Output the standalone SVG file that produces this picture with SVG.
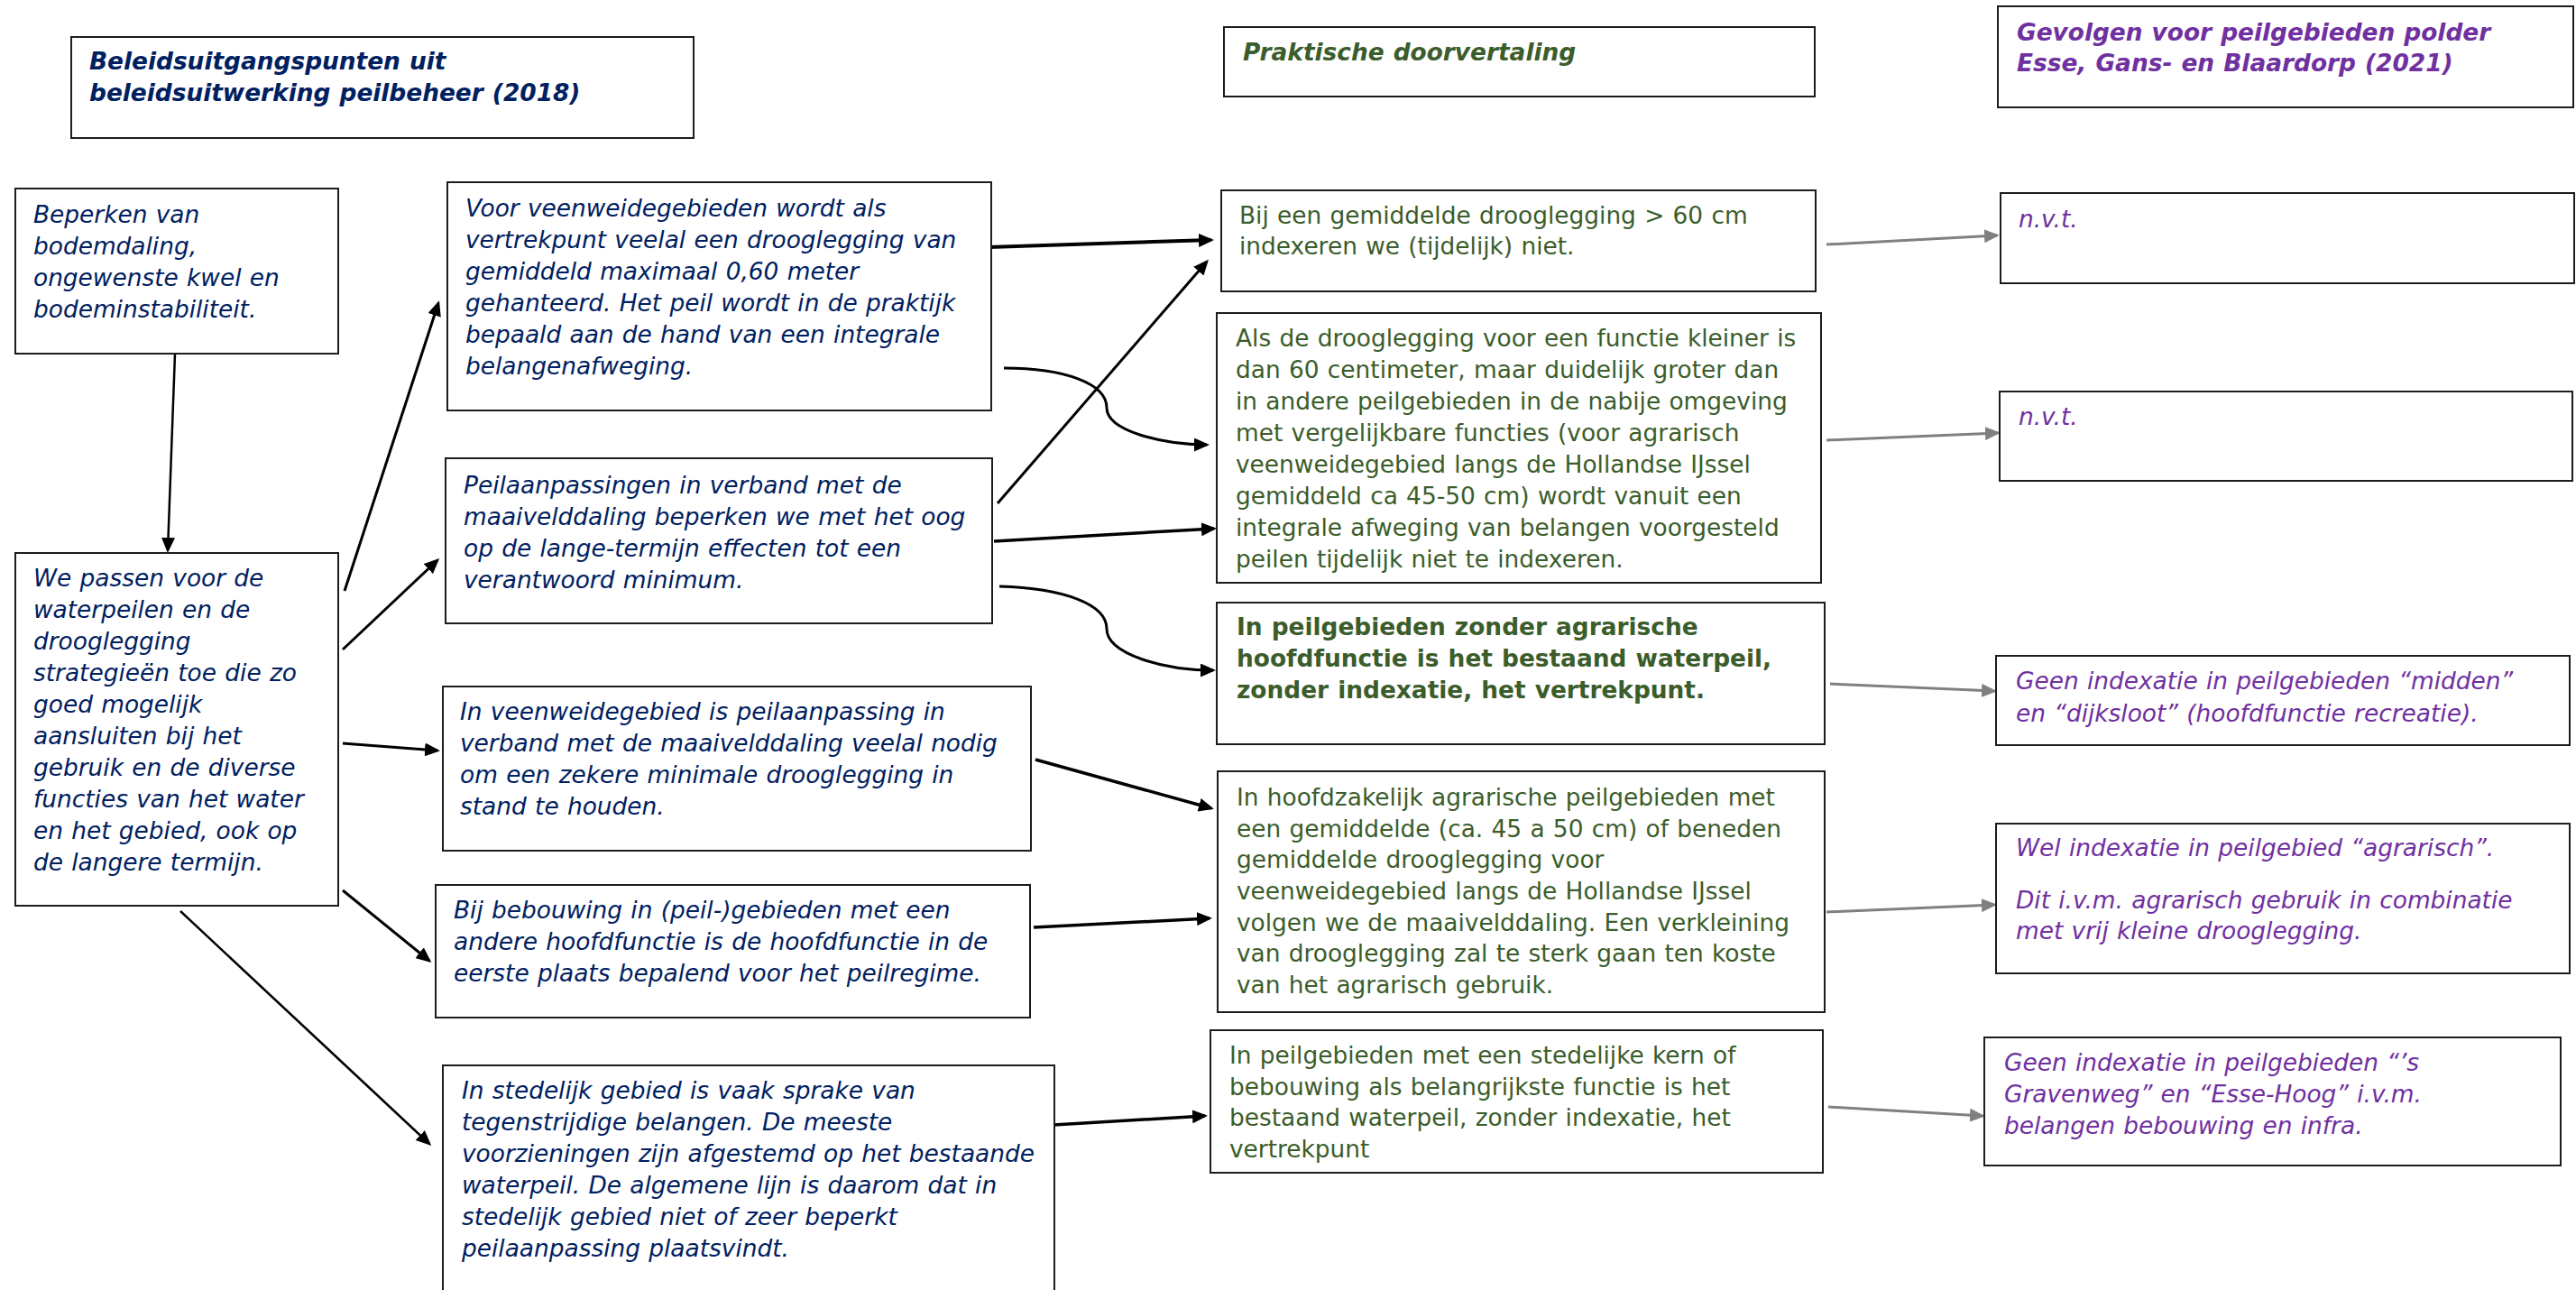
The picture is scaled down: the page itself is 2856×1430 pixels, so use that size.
<svg xmlns="http://www.w3.org/2000/svg" width="2856" height="1430" viewBox="0 0 2856 1430">
<style>
.box{fill:#fff;stroke:#1c1c1c;stroke-width:2}
.t{font-family:Verdana,"DejaVu Sans",sans-serif;font-size:26.4px;word-spacing:0.9px}
.nv{fill:#002060;font-style:italic}
.gr{fill:#3b5d2b}
.pu{fill:#7030a0;font-style:italic}
.b{font-weight:bold}
.c{stroke:#000;stroke-width:3;fill:none;marker-end:url(#ah)}
.g{stroke:#808080;stroke-width:3;fill:none;marker-end:url(#ahg)}
</style>
<defs>
<marker id="ah" markerUnits="userSpaceOnUse" markerWidth="17" markerHeight="15" refX="14" refY="7.5" orient="auto"><path d="M0,0 L17,7.5 L0,15 z" fill="#000"/></marker>
<marker id="ahg" markerUnits="userSpaceOnUse" markerWidth="17" markerHeight="15" refX="14" refY="7.5" orient="auto"><path d="M0,0 L17,7.5 L0,15 z" fill="#808080"/></marker>
</defs>
<rect width="2856" height="1430" fill="#fff"/>

<g id="connectors">
<line class="c" x1="194" y1="392" x2="186" y2="610" style="stroke-width:2.5"/>
<line class="c" x1="382" y1="655" x2="486" y2="336"/>
<line class="c" x1="380" y1="720" x2="485" y2="621"/>
<line class="c" x1="380" y1="824" x2="485" y2="832"/>
<line class="c" x1="380" y1="987" x2="476" y2="1065"/>
<line class="c" x1="200" y1="1010" x2="476" y2="1268" style="stroke-width:2.5"/>
<line class="c" x1="1096" y1="274" x2="1343" y2="266" style="stroke-width:4"/>
<path class="c" d="M1113,408 C1180,408 1227,425 1227,452 C1227,478 1290,493 1338,493"/>
<line class="c" x1="1106" y1="558" x2="1338" y2="290"/>
<line class="c" x1="1102" y1="600" x2="1346" y2="586" style="stroke-width:3.5"/>
<path class="c" d="M1108,650 C1180,652 1227,670 1227,697 C1227,725 1290,743 1345,743"/>
<line class="c" x1="1148" y1="842" x2="1343" y2="896" style="stroke-width:3.5"/>
<line class="c" x1="1146" y1="1028" x2="1341" y2="1018" style="stroke-width:3.5"/>
<line class="c" x1="1168" y1="1247" x2="1336" y2="1237" style="stroke-width:3.5"/>
<line class="g" x1="2025" y1="271" x2="2214" y2="261"/>
<line class="g" x1="2025" y1="488" x2="2215" y2="480"/>
<line class="g" x1="2029" y1="758" x2="2211" y2="766"/>
<line class="g" x1="2025" y1="1011" x2="2211" y2="1003"/>
<line class="g" x1="2027" y1="1227" x2="2198" y2="1237"/>
</g>

<g id="hdr-beleid">
<rect class="box" x="79" y="41" width="690" height="112"/>
<text class="t nv b" x="99"><tspan x="99" y="77">Beleidsuitgangspunten uit</tspan><tspan x="99" y="112">beleidsuitwerking peilbeheer (2018)</tspan></text>
</g>
<g id="hdr-praktisch">
<rect class="box" x="1357" y="30" width="655" height="77"/>
<text class="t gr b" style="font-style:italic" x="1378" y="67">Praktische doorvertaling</text>
</g>
<g id="hdr-gevolgen">
<rect class="box" x="2215" y="7" width="638" height="112"/>
<text class="t pu b"><tspan x="2236" y="45">Gevolgen voor peilgebieden polder</tspan><tspan x="2236" y="79">Esse, Gans- en Blaardorp (2021)</tspan></text>
</g>

<g id="n-beperken">
<rect class="box" x="17" y="209" width="358" height="183"/>
<text class="t nv"><tspan x="37" y="247">Beperken van</tspan><tspan x="37" y="282">bodemdaling,</tspan><tspan x="37" y="317">ongewenste kwel en</tspan><tspan x="37" y="352">bodeminstabiliteit.</tspan></text>
</g>
<g id="n-wepassen">
<rect class="box" x="17" y="613" width="358" height="391"/>
<text class="t nv"><tspan x="37" y="650">We passen voor de</tspan><tspan x="37" y="685">waterpeilen en de</tspan><tspan x="37" y="720">drooglegging</tspan><tspan x="37" y="755">strategieën toe die zo</tspan><tspan x="37" y="790">goed mogelijk</tspan><tspan x="37" y="825">aansluiten bij het</tspan><tspan x="37" y="860">gebruik en de diverse</tspan><tspan x="37" y="895">functies van het water</tspan><tspan x="37" y="930">en het gebied, ook op</tspan><tspan x="37" y="965">de langere termijn.</tspan></text>
</g>

<g id="n-voor">
<rect class="box" x="496" y="202" width="603" height="253"/>
<text class="t nv"><tspan x="516" y="240">Voor veenweidegebieden wordt als</tspan><tspan x="516" y="275">vertrekpunt veelal een drooglegging van</tspan><tspan x="516" y="310">gemiddeld maximaal 0,60 meter</tspan><tspan x="516" y="345">gehanteerd. Het peil wordt in de praktijk</tspan><tspan x="516" y="380">bepaald aan de hand van een integrale</tspan><tspan x="516" y="415">belangenafweging.</tspan></text>
</g>
<g id="n-peilaanpassingen">
<rect class="box" x="494" y="508" width="606" height="183"/>
<text class="t nv"><tspan x="514" y="547">Peilaanpassingen in verband met de</tspan><tspan x="514" y="582">maaivelddaling beperken we met het oog</tspan><tspan x="514" y="617">op de lange-termijn effecten tot een</tspan><tspan x="514" y="652">verantwoord minimum.</tspan></text>
</g>
<g id="n-veenweide">
<rect class="box" x="491" y="761" width="652" height="182"/>
<text class="t nv"><tspan x="510" y="798">In veenweidegebied is peilaanpassing in</tspan><tspan x="510" y="833">verband met de maaivelddaling veelal nodig</tspan><tspan x="510" y="868">om een zekere minimale drooglegging in</tspan><tspan x="510" y="903">stand te houden.</tspan></text>
</g>
<g id="n-bebouwing">
<rect class="box" x="483" y="981" width="659" height="147"/>
<text class="t nv"><tspan x="503" y="1018">Bij bebouwing in (peil-)gebieden met een</tspan><tspan x="503" y="1053">andere hoofdfunctie is de hoofdfunctie in de</tspan><tspan x="503" y="1088">eerste plaats bepalend voor het peilregime.</tspan></text>
</g>
<g id="n-stedelijk">
<rect class="box" x="491" y="1181" width="678" height="260"/>
<text class="t nv"><tspan x="512" y="1218">In stedelijk gebied is vaak sprake van</tspan><tspan x="512" y="1253">tegenstrijdige belangen. De meeste</tspan><tspan x="512" y="1288">voorzieningen zijn afgestemd op het bestaande</tspan><tspan x="512" y="1323">waterpeil. De algemene lijn is daarom dat in</tspan><tspan x="512" y="1358">stedelijk gebied niet of zeer beperkt</tspan><tspan x="512" y="1393">peilaanpassing plaatsvindt.</tspan></text>
</g>

<g id="p-60cm">
<rect class="box" x="1354" y="211" width="659" height="112"/>
<text class="t gr"><tspan x="1374" y="248">Bij een gemiddelde drooglegging &gt; 60 cm</tspan><tspan x="1374" y="282">indexeren we (tijdelijk) niet.</tspan></text>
</g>
<g id="p-kleiner">
<rect class="box" x="1349" y="347" width="670" height="299"/>
<text class="t gr"><tspan x="1370" y="384">Als de drooglegging voor een functie kleiner is</tspan><tspan x="1370" y="419">dan 60 centimeter, maar duidelijk groter dan</tspan><tspan x="1370" y="454">in andere peilgebieden in de nabije omgeving</tspan><tspan x="1370" y="489">met vergelijkbare functies (voor agrarisch</tspan><tspan x="1370" y="524">veenweidegebied langs de Hollandse IJssel</tspan><tspan x="1370" y="559">gemiddeld ca 45-50 cm) wordt vanuit een</tspan><tspan x="1370" y="594">integrale afweging van belangen voorgesteld</tspan><tspan x="1370" y="629">peilen tijdelijk niet te indexeren.</tspan></text>
</g>
<g id="p-zonder">
<rect class="box" x="1349" y="668" width="674" height="157"/>
<text class="t gr b"><tspan x="1371" y="704">In peilgebieden zonder agrarische</tspan><tspan x="1371" y="739">hoofdfunctie is het bestaand waterpeil,</tspan><tspan x="1371" y="774">zonder indexatie, het vertrekpunt.</tspan></text>
</g>
<g id="p-agrarisch">
<rect class="box" x="1350" y="855" width="673" height="267"/>
<text class="t gr"><tspan x="1371" y="893">In hoofdzakelijk agrarische peilgebieden met</tspan><tspan x="1371" y="928">een gemiddelde (ca. 45 a 50 cm) of beneden</tspan><tspan x="1371" y="962">gemiddelde drooglegging voor</tspan><tspan x="1371" y="997">veenweidegebied langs de Hollandse IJssel</tspan><tspan x="1371" y="1032">volgen we de maaivelddaling. Een verkleining</tspan><tspan x="1371" y="1066">van drooglegging zal te sterk gaan ten koste</tspan><tspan x="1371" y="1101">van het agrarisch gebruik.</tspan></text>
</g>
<g id="p-stedelijk">
<rect class="box" x="1342" y="1142" width="679" height="158"/>
<text class="t gr"><tspan x="1363" y="1179">In peilgebieden met een stedelijke kern of</tspan><tspan x="1363" y="1214">bebouwing als belangrijkste functie is het</tspan><tspan x="1363" y="1248">bestaand waterpeil, zonder indexatie, het</tspan><tspan x="1363" y="1283">vertrekpunt</tspan></text>
</g>

<g id="r-nvt1">
<rect class="box" x="2218" y="214" width="636" height="100"/>
<text class="t pu" x="2238" y="252">n.v.t.</text>
</g>
<g id="r-nvt2">
<rect class="box" x="2217" y="434" width="635" height="99"/>
<text class="t pu" x="2238" y="471">n.v.t.</text>
</g>
<g id="r-midden">
<rect class="box" x="2213" y="727" width="636" height="99"/>
<text class="t pu"><tspan x="2235" y="764">Geen indexatie in peilgebieden “midden”</tspan><tspan x="2235" y="800">en “dijksloot” (hoofdfunctie recreatie).</tspan></text>
</g>
<g id="r-agrarisch">
<rect class="box" x="2213" y="913" width="636" height="166"/>
<text class="t pu"><tspan x="2235" y="949">Wel indexatie in peilgebied “agrarisch”.</tspan><tspan x="2235" y="1007">Dit i.v.m. agrarisch gebruik in combinatie</tspan><tspan x="2235" y="1041">met vrij kleine drooglegging.</tspan></text>
</g>
<g id="r-gravenweg">
<rect class="box" x="2200" y="1150" width="639" height="142"/>
<text class="t pu"><tspan x="2222" y="1187">Geen indexatie in peilgebieden “’s</tspan><tspan x="2222" y="1222">Gravenweg” en “Esse-Hoog” i.v.m.</tspan><tspan x="2222" y="1257">belangen bebouwing en infra.</tspan></text>
</g>
</svg>
